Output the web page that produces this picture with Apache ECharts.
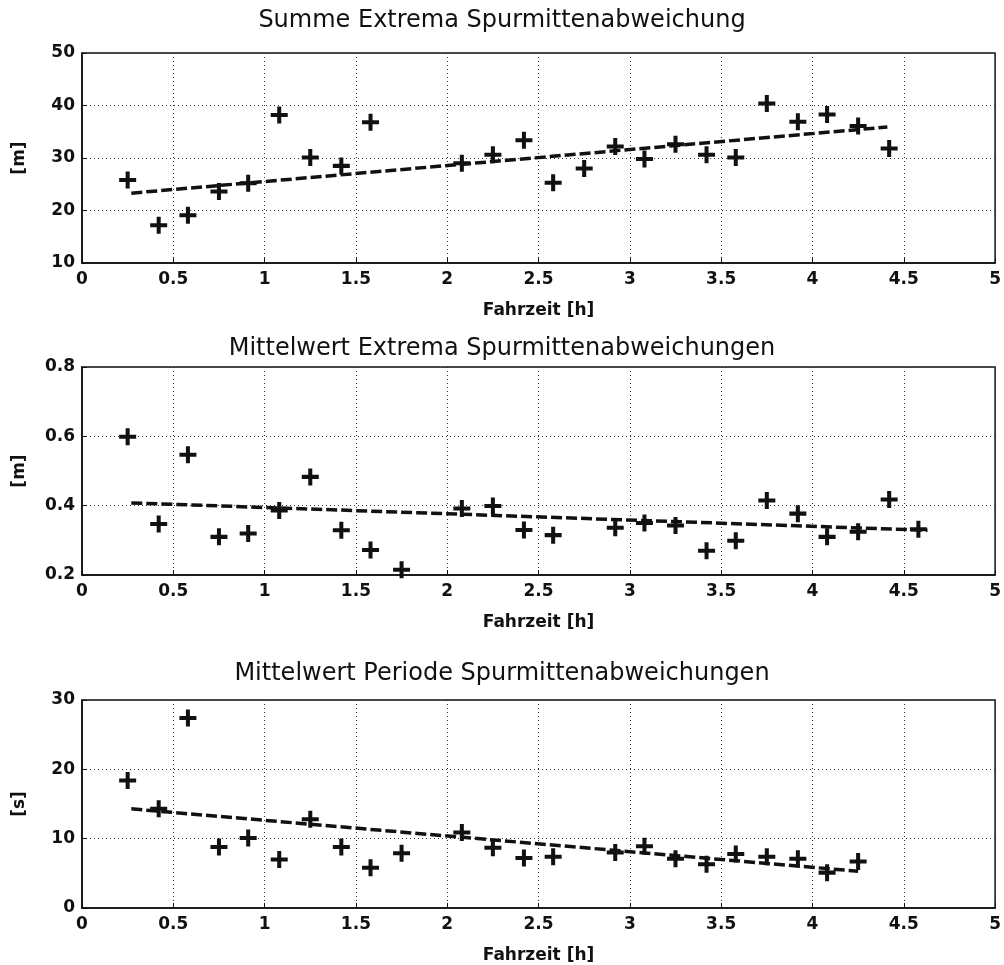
<!DOCTYPE html>
<html>
<head>
<meta charset="utf-8">
<script src="https://cdn.jsdelivr.net/npm/echarts@6/dist/echarts.min.js"></script>
<style>
html,body{margin:0;padding:0;background:#fff;}
#chart{width:1004px;height:965px;}
</style>
</head>
<body>
<div id="chart"></div>
<script>
// Panel 1: Summe Extrema Spurmittenabweichung
const titles = ['Summe Extrema Spurmittenabweichung', 'Mittelwert Extrema Spurmittenabweichungen', 'Mittelwert Periode Spurmittenabweichungen'];
const xName = 'Fahrzeit [h]';
const yNames = ['[m]', '[m]', '[s]'];

const timeA = [0.25,0.42,0.58,0.75,0.91,1.08,1.25,1.42,1.58,2.08,2.25,2.42,2.58,2.75,2.92,3.08,3.25,3.42,3.58,3.75,3.92,4.08,4.25,4.42];
const sumExtrema = [25.8,17.2,19.1,23.6,25.2,38.2,30.1,28.5,36.8,29.0,30.6,33.4,25.3,28.0,32.2,29.8,32.6,30.6,30.1,40.4,36.9,38.3,36.1,31.8];
const trendAx = [0.27, 4.41];
const trendAy = [23.3, 35.9];

// Panel 2: Mittelwert Extrema Spurmittenabweichungen
const timeB = [0.25,0.42,0.58,0.75,0.91,1.08,1.25,1.42,1.58,1.75,2.08,2.25,2.42,2.58,2.92,3.08,3.25,3.42,3.58,3.75,3.92,4.08,4.25,4.42,4.58];
const meanExtrema = [0.599,0.347,0.547,0.310,0.320,0.386,0.483,0.329,0.272,0.215,0.392,0.399,0.330,0.315,0.336,0.350,0.343,0.270,0.299,0.415,0.377,0.310,0.325,0.418,0.332];
const trendBx = [0.27, 4.63];
const trendBy = [0.408, 0.329];

// Panel 3: Mittelwert Periode Spurmittenabweichungen
const timeC = [0.25,0.42,0.58,0.75,0.91,1.08,1.25,1.42,1.58,1.75,2.08,2.25,2.42,2.58,2.92,3.08,3.25,3.42,3.58,3.75,3.92,4.08,4.25];
const meanPeriod = [18.4,14.3,27.4,8.8,10.1,7.0,12.8,8.8,5.8,7.9,10.9,8.7,7.2,7.4,8.0,8.9,7.1,6.3,7.8,7.4,7.1,5.1,6.7];
const trendCx = [0.27, 4.25];
const trendCy = [14.3, 5.3];

const xTicks = {min: 0, max: 5, interval: 0.5};
const yTicks = [
  {min: 10, max: 50, interval: 10},
  {min: 0.2, max: 0.8, interval: 0.2},
  {min: 0, max: 30, interval: 10}
];

const pairs = (xs, ys) => xs.map((x, i) => [x, ys[i]]);

const gridTops = [53, 367, 700];
const gridHeights = [210, 208, 208];
const titleTops = [9, 337, 662];

const plus = 'path://M6.1,0H9.9V6.1H16V9.9H9.9V16H6.1V9.9H0V6.1H6.1Z';
const ink = '#111';
const labelFont = {fontFamily: 'DejaVu Sans', fontWeight: 'bold', fontSize: 17, color: ink};

const grids = [], xAxes = [], yAxes = [], titleOpts = [];
for (let i = 0; i < 3; i++) {
  grids.push({left: 82, right: 6, top: gridTops[i], height: gridHeights[i], show: true,
    borderColor: ink, borderWidth: 1.5, backgroundColor: '#fff', containLabel: false});
  titleOpts.push({text: titles[i], left: 'center', top: titleTops[i], padding: 0,
    textStyle: {fontFamily: 'DejaVu Sans', fontWeight: 'normal', fontSize: 24, color: ink}});
  xAxes.push({type: 'value', gridIndex: i, min: xTicks.min, max: xTicks.max, interval: xTicks.interval,
    name: xName, nameLocation: 'middle', nameGap: 39,
    nameTextStyle: {fontFamily: 'DejaVu Sans', fontWeight: 'bold', fontSize: 17, color: ink},
    axisLine: {show: true, onZero: false, lineStyle: {color: ink, width: 1.5}},
    axisTick: {show: true, inside: true, length: 5, lineStyle: {color: ink}},
    axisLabel: Object.assign({margin: 8}, labelFont),
    splitLine: {show: true, lineStyle: {color: '#333', width: 1, type: [1, 3]}}});
  yAxes.push({type: 'value', gridIndex: i, min: yTicks[i].min, max: yTicks[i].max, interval: yTicks[i].interval,
    name: yNames[i], nameLocation: 'middle', nameGap: 54, nameRotate: 90,
    nameTextStyle: {fontFamily: 'DejaVu Sans', fontWeight: 'bold', fontSize: 17, color: ink},
    axisLine: {show: true, onZero: false, lineStyle: {color: ink, width: 1.5}},
    axisTick: {show: true, inside: true, length: 5, lineStyle: {color: ink}},
    axisLabel: Object.assign({margin: 7}, labelFont),
    splitLine: {show: true, lineStyle: {color: '#333', width: 1, type: [1, 3]}}});
}

const scatterData = [pairs(timeA, sumExtrema), pairs(timeB, meanExtrema), pairs(timeC, meanPeriod)];
const trendData = [pairs(trendAx, trendAy), pairs(trendBx, trendBy), pairs(trendCx, trendCy)];

const series = [];
for (let i = 0; i < 3; i++) {
  series.push({type: 'line', xAxisIndex: i, yAxisIndex: i, data: trendData[i], symbol: 'none',
    lineStyle: {color: ink, width: 3.5, type: [11, 4]}, z: 3, animation: false});
  series.push({type: 'scatter', xAxisIndex: i, yAxisIndex: i, data: scatterData[i], symbol: plus,
    symbolSize: 17, itemStyle: {color: ink, opacity: 1}, z: 4, animation: false});
}

const chart = echarts.init(document.getElementById('chart'), null, {renderer: 'canvas'});
chart.setOption({
  backgroundColor: '#fff',
  animation: false,
  title: titleOpts,
  grid: grids,
  xAxis: xAxes,
  yAxis: yAxes,
  series: series
});
</script>
</body>
</html>
